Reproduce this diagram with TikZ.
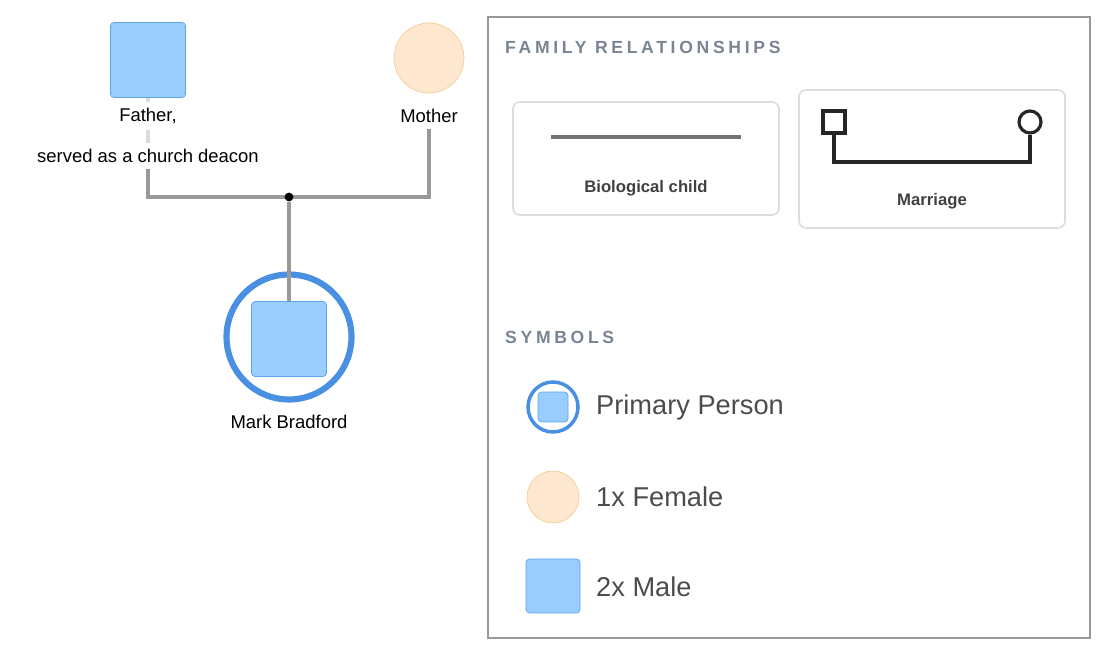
\documentclass[tikz,border=0pt]{standalone}
\usepackage{fontspec}
\setmainfont{Liberation Sans}
\usepackage{tikz}
\usetikzlibrary{calc}
\definecolor{maleFill}{HTML}{99CCFF}
\definecolor{maleLine}{HTML}{5AA5EE}
\definecolor{femFill}{HTML}{FDE8CF}
\definecolor{femLine}{HTML}{F6CB97}
\definecolor{primLine}{HTML}{4A90E2}
\definecolor{linkGray}{HTML}{999999}
\definecolor{headGray}{HTML}{7A8594}
\definecolor{boxLine}{HTML}{DDDDDD}
\begin{document}
\begin{tikzpicture}[x=0.02cm, y=-0.02cm,
    male/.style={draw=maleLine, fill=maleFill, rounded corners=2pt, minimum size=1.5cm, inner sep=0pt},
    female/.style={circle, draw=femLine, fill=femFill, minimum size=1.4cm, inner sep=0pt},
    link/.style={linkGray, line width=2.2pt},
    label/.style={font=\fontsize{10.5}{12}\selectfont},
    head/.style={anchor=west, text=headGray, font=\fontsize{10}{12}\selectfont\bfseries\addfontfeatures{LetterSpace=21}},
    card/.style={draw=boxLine, line width=1pt, rounded corners=4pt},
    legend/.style={anchor=west, text=black!70, font=\fontsize{15.5}{18}\selectfont}]
        % Page frame
        \useasboundingbox (0,0) rectangle (1109,658);

        % Family tree
        \node[male] (father) at (148,60) {};
        \node[female] (mother) at (429,58) {};
        \node[label] (fatherA) at (148,116) {Father,};
        \node[label] (fatherB) at (148,156) {served as a church deacon};
        \node[label] (motherA) at (429,116) {Mother};
        \coordinate (fjoin) at (148,197);
        \coordinate (mjoin) at (429,197);
        \coordinate (mid) at (289,197);

        \draw[link, linkGray!35] (father.south) -- (fatherA.north);
        \draw[link, linkGray!35] (fatherA.south) -- (fatherB.north);
        \draw[link] (fatherB.south) -- (fjoin) -- (mjoin) -- (motherA.south);
        \node[circle, fill=black, inner sep=0pt, minimum size=5pt] (dot) at (mid) {};

        \node[circle, draw=primLine, line width=3.5pt, minimum size=2.5cm] (primary) at (289,337) {};
        \node[male] (mark) at (289,339) {};
        \draw[link] (dot) -- (mark.north);
        \node[label] (markL) at (289,422) {Mark Bradford};

        % Legend
        \draw[linkGray, line width=1.3pt] (488,17) rectangle (1090,638);
        \node[head] (famhead) at (499,47) {FAMILY RELATIONSHIPS};
        \draw[card] (513,102) rectangle (779,215);
        \draw[black!55, line width=2.5pt] (551,137) -- (741,137);
        \node[font=\fontsize{9.5}{11}\selectfont\bfseries, text=black!75] (bio) at (646,188) {Biological child};
        \draw[card] (799,90) rectangle (1065,228);
        \node[draw=black!85, line width=1.8pt, minimum size=0.44cm, inner sep=0pt] (msq) at (834,122) {};
        \node[circle, draw=black!85, line width=1.8pt, minimum size=0.44cm, inner sep=0pt] (mcirc) at (1030,122) {};
        \draw[black!85, line width=1.8pt] (msq.south) |- (932,162) -| (mcirc.south);
        \node[font=\fontsize{9.5}{11}\selectfont\bfseries, text=black!75] (mar) at (932,201) {Marriage};

        \node[head] (symhead) at (499,337) {SYMBOLS};
        \node[circle, draw=primLine, line width=2pt, minimum size=1cm, inner sep=0pt] (lprim) at (553,407) {};
        \node[male, minimum size=0.6cm] (lprimsq) at (553,407) {};
        \node[legend] (tprim) at (590,407) {Primary Person};
        \node[female, minimum size=1.04cm] (lfem) at (553,497) {};
        \node[legend] (tfem) at (590,497) {1x Female};
        \node[male, minimum size=1.08cm] (lmale) at (553,586) {};
        \node[legend] (tmale) at (590,587) {2x Male};
\end{tikzpicture}
\end{document}
